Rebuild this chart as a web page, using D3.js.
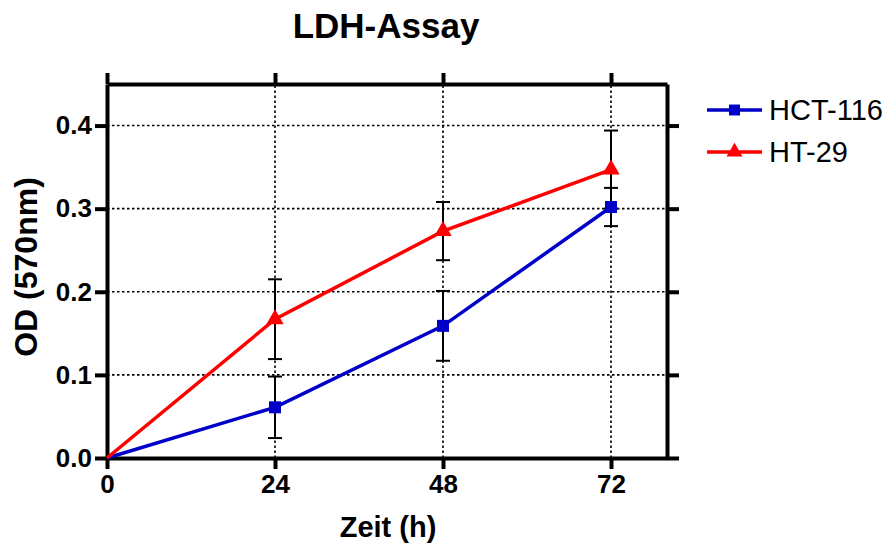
<!DOCTYPE html>
<html><head><meta charset="utf-8">
<script src="https://cdn.jsdelivr.net/npm/d3@7/dist/d3.min.js"></script>
<style>body{margin:0;background:#fff;} svg{display:block;font-family:"Liberation Sans",Arial,sans-serif;}</style>
</head><body><svg id="c" width="892" height="545"></svg>
<script>
const hours = [0, 24, 48, 72];
const hctMean = [0, 0.061, 0.159, 0.302];
const hctErr  = [0, 0.037, 0.042, 0.023];
const htMean  = [0, 0.167, 0.273, 0.347];
const htErr   = [0, 0.048, 0.035, 0.047];
const xTicks = [0, 24, 48, 72];
const yTicks = [0, 0.1, 0.2, 0.3, 0.4];
const seriesNames = ["HCT-116", "HT-29"];
const colors = ["#0000c8", "#ff0000"];

const svg = d3.select("#c");
const x = d3.scaleLinear().domain([0, 80]).range([107, 667]);
const y = d3.scaleLinear().domain([0, 0.45]).range([458, 84]);

// gridlines
const g = svg.append("g");
g.selectAll("line.gx").data(xTicks.slice(1)).join("line")
  .attr("x1", d => x(d)).attr("x2", d => x(d)).attr("y1", y(0)).attr("y2", y(0.45))
  .attr("stroke", "#000").attr("stroke-width", 1.6).attr("stroke-dasharray", "2.5,2.5");
g.selectAll("line.gy").data(yTicks.slice(1)).join("line")
  .attr("y1", d => y(d)).attr("y2", d => y(d)).attr("x1", x(0)).attr("x2", x(80))
  .attr("stroke", "#000").attr("stroke-width", 1.6).attr("stroke-dasharray", "2.5,2.5");

const series = [
  {name: seriesNames[0], mean: hctMean, err: hctErr, color: colors[0], shape: d3.symbolSquare},
  {name: seriesNames[1], mean: htMean, err: htErr, color: colors[1], shape: d3.symbolTriangle}
];

// error bars
series.forEach(s => {
  const eg = svg.append("g").attr("stroke", "#000").attr("stroke-width", 2);
  hours.forEach((h, i) => {
    if (!s.err[i]) return;
    const lo = s.mean[i] - s.err[i], hi = s.mean[i] + s.err[i];
    eg.append("line").attr("x1", x(h)).attr("x2", x(h)).attr("y1", y(lo)).attr("y2", y(hi));
    [lo, hi].forEach(v => eg.append("line").attr("x1", x(h) - 7).attr("x2", x(h) + 7).attr("y1", y(v)).attr("y2", y(v)));
  });
});

// axes
function styleAxis(sel) {
  sel.selectAll("path.domain").attr("stroke-width", 4).attr("stroke", "#000");
  sel.selectAll(".tick line").attr("stroke-width", 4).attr("stroke", "#000");
  sel.selectAll(".tick text").attr("font-size", 26).attr("font-weight", "bold").attr("fill", "#000")
    .attr("font-family", "'Liberation Sans',Arial,sans-serif");
}
svg.append("g").attr("transform", `translate(0,${y(0.45)})`)
  .call(d3.axisTop(x).tickValues(xTicks).tickSize(11).tickSizeOuter(0).tickFormat(""))
  .call(styleAxis);
svg.append("g").attr("transform", `translate(${x(80)},0)`)
  .call(d3.axisRight(y).tickValues(yTicks).tickSize(12).tickSizeOuter(0).tickFormat(""))
  .call(styleAxis);
svg.append("g").attr("transform", `translate(0,${y(0)})`)
  .call(d3.axisBottom(x).tickValues(xTicks).tickSize(11).tickSizeOuter(0).tickPadding(6))
  .call(styleAxis);
svg.append("g").attr("transform", `translate(${x(0)},0)`)
  .call(d3.axisLeft(y).tickValues(yTicks).tickSize(12).tickSizeOuter(0).tickPadding(3).tickFormat(d3.format(".1f")))
  .call(styleAxis);

// lines and markers
const line = d3.line().x((d, i) => x(hours[i])).y(d => y(d));
series.forEach(s => {
  svg.append("path").datum(s.mean).attr("d", line).attr("fill", "none")
    .attr("stroke", s.color).attr("stroke-width", 3.5);
  svg.selectAll(null).data(s.mean.slice(1)).join("path")
    .attr("transform", (d, i) => `translate(${x(hours[i + 1])},${y(d)})`)
    .attr("d", d3.symbol().type(s.shape).size(s.shape === d3.symbolSquare ? 144 : 130))
    .attr("fill", s.color);
});

// title and labels
svg.append("text").attr("x", 386).attr("y", 38).attr("text-anchor", "middle")
  .attr("font-size", 35).attr("font-weight", "bold").text("LDH-Assay");
svg.append("text").attr("x", 388).attr("y", 537).attr("text-anchor", "middle")
  .attr("font-size", 29).attr("font-weight", "bold").text("Zeit (h)");
svg.append("text").attr("transform", "translate(37,267) rotate(-90)").attr("text-anchor", "middle")
  .attr("font-size", 32).attr("font-weight", "bold").text("OD (570nm)");

// legend
series.forEach((s, i) => {
  const ly = 110 + i * 42;
  svg.append("line").attr("x1", 707).attr("x2", 762).attr("y1", ly).attr("y2", ly)
    .attr("stroke", s.color).attr("stroke-width", 3.5);
  svg.append("path").attr("transform", `translate(734.5,${ly})`)
    .attr("d", d3.symbol().type(s.shape).size(s.shape === d3.symbolSquare ? 120 : 110)).attr("fill", s.color);
  svg.append("text").attr("x", 769).attr("y", ly + 10).attr("font-size", 29).text(s.name);
});
</script></body></html>
